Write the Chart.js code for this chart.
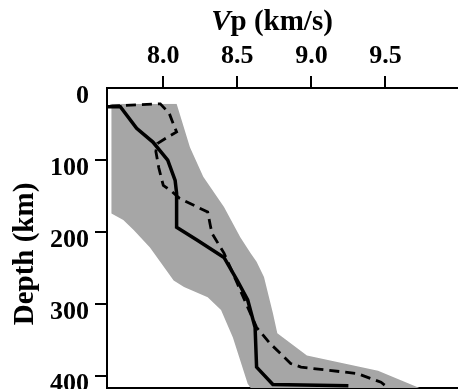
<!DOCTYPE html>
<html>
<head>
<meta charset="utf-8">
<script src="https://cdn.jsdelivr.net/npm/chart.js@4.4.1/dist/chart.umd.min.js"></script>
<style>
  html, body { margin: 0; padding: 0; background: #fff; }
  canvas { display: block; }
</style>
</head>
<body>
<canvas id="vpChart" width="458" height="389"></canvas>
<script>
// solid profile (Vp in km/s vs depth in km)
var solidVp    = [7.62, 7.71, 7.82, 7.93, 8.03, 8.08, 8.09, 8.09, 8.23, 8.41, 8.50, 8.57, 8.62, 8.63, 8.74, 9.25];
var solidDepth = [26,   26,   56,   75,   100,  128,  146,  193,  211,  235,  267,  294,  332,  387,  411,  413];

// dashed profile
var dashVp    = [7.64, 7.98, 8.04, 8.07, 8.09, 8.03, 7.96, 7.95, 7.97, 8.00, 8.06, 8.11, 8.30, 8.32, 8.33, 8.41, 8.50, 8.57, 8.63, 8.72, 8.86, 8.93, 9.31, 9.47, 9.52];
var dashDepth = [25,   22,   35,   51,   61,   68,   77,   88,   111,  135,  144,  153,  172,  193,  202,  229,  271,  304,  332,  354,  382,  387,  396,  408,  416];

// grey range: left and right edges
var lowVp     = [7.65, 7.65, 7.73, 7.80, 7.91, 8.07, 8.14, 8.30, 8.39, 8.47, 8.57, 8.59];
var lowDepth  = [22,   174,  183,  197,  221,  267,  276,  290,  308,  346,  410,  416];
var highVp    = [8.09, 8.18, 8.27, 8.41, 8.52, 8.59, 8.63, 8.68, 8.74, 8.77, 8.97, 9.45, 9.73];
var highDepth = [22,   82,   123,  165,  207,  229,  241,  262,  312,  340,  371,  392,  416];

var vpTicks = [8.0, 8.5, 9.0, 9.5];
var depthTicks = [0, 100, 200, 300, 400];

function pts(vs, ds) {
  var out = [];
  for (var i = 0; i < vs.length; i++) out.push({x: vs[i], y: ds[i]});
  return out;
}

var serif = '"Liberation Serif", "Times New Roman", serif';
var black = '#000';

// hide the tick mark sitting on the corner at depth 0
function tickColor(c) {
  return c.tick && c.tick.value === 0 ? 'rgba(0,0,0,0)' : black;
}

// axis titles (the V is italic, so drawn by hand)
var axisTitles = {
  id: 'axisTitles',
  afterDraw: function(chart) {
    var ctx = chart.ctx;
    ctx.save();
    ctx.fillStyle = black;
    ctx.textBaseline = 'alphabetic';
    var fItal = 'italic bold 29px ' + serif;
    var fBold = 'bold 29px ' + serif;
    ctx.font = fItal;
    var wV = ctx.measureText('V').width;
    ctx.font = fBold;
    var wRest = ctx.measureText('p (km/s)').width;
    var x0 = 272 - (wV + wRest) / 2;
    ctx.textAlign = 'left';
    ctx.font = fItal;
    ctx.fillText('V', x0, 30);
    ctx.font = fBold;
    ctx.fillText('p (km/s)', x0 + wV, 30);

    ctx.translate(33, 254);
    ctx.rotate(-Math.PI / 2);
    ctx.textAlign = 'center';
    ctx.fillText('Depth (km)', 0, 0);
    ctx.restore();
  }
};

var ctx = document.getElementById('vpChart').getContext('2d');
var vpChart = new Chart(ctx, {
  type: 'line',
  data: {
    datasets: [{
      label: 'solid',
      data: pts(solidVp, solidDepth),
      borderColor: black,
      borderWidth: 3.5,
      pointRadius: 0,
      fill: false
    }, {
      label: 'dashed',
      data: pts(dashVp, dashDepth),
      borderColor: black,
      borderWidth: 2.8,
      borderDash: [10, 6],
      pointRadius: 0,
      fill: false
    }, {
      label: 'low',
      data: pts(lowVp, lowDepth),
      borderWidth: 0,
      borderColor: 'rgba(0,0,0,0)',
      backgroundColor: '#a6a6a6',
      pointRadius: 0,
      fill: false
    }, {
      label: 'high',
      data: pts(highVp, highDepth),
      borderWidth: 0,
      borderColor: 'rgba(0,0,0,0)',
      backgroundColor: '#a6a6a6',
      pointRadius: 0,
      fill: '-1'
    }]
  },
  options: {
    indexAxis: 'y',
    responsive: false,
    animation: false,
    devicePixelRatio: 1,
    layout: { padding: 0 },
    plugins: {
      legend: { display: false },
      tooltip: { enabled: false }
    },
    scales: {
      x: {
        type: 'linear',
        position: 'top',
        min: 7.62,
        max: 9.99,
        afterFit: function(s) {
          s.height = 88;
          s.paddingLeft = 0;
          s.paddingRight = 0;
        },
        afterBuildTicks: function(s) {
          s.ticks = vpTicks.map(function(v) { return {value: v}; });
        },
        ticks: {
          color: black,
          padding: 4,
          maxRotation: 0,
          font: { family: serif, size: 26, weight: 'bold' },
          callback: function(v) { return v.toFixed(1); }
        },
        grid: { drawOnChartArea: false, tickLength: 12, color: black, lineWidth: 2 },
        border: { display: true, color: black, width: 2 }
      },
      xBottom: {
        type: 'linear',
        position: 'bottom',
        min: 7.62,
        max: 9.99,
        afterFit: function(s) { s.height = 1; },
        ticks: { display: false },
        grid: { display: false, drawTicks: false },
        border: { display: true, color: black, width: 2 }
      },
      y: {
        type: 'linear',
        position: 'left',
        reverse: true,
        min: 0,
        max: 416,
        afterFit: function(s) {
          s.width = 107;
          s.paddingTop = 0;
          s.paddingBottom = 0;
        },
        afterBuildTicks: function(s) {
          s.ticks = depthTicks.map(function(v) { return {value: v}; });
        },
        ticks: {
          color: black,
          padding: 6,
          labelOffset: 8,
          font: { family: serif, size: 26, weight: 'bold' }
        },
        grid: { drawOnChartArea: false, tickLength: 12, color: tickColor, lineWidth: 2 },
        border: { display: true, color: black, width: 2 }
      }
    }
  },
  plugins: [axisTitles]
});
</script>
</body>
</html>
